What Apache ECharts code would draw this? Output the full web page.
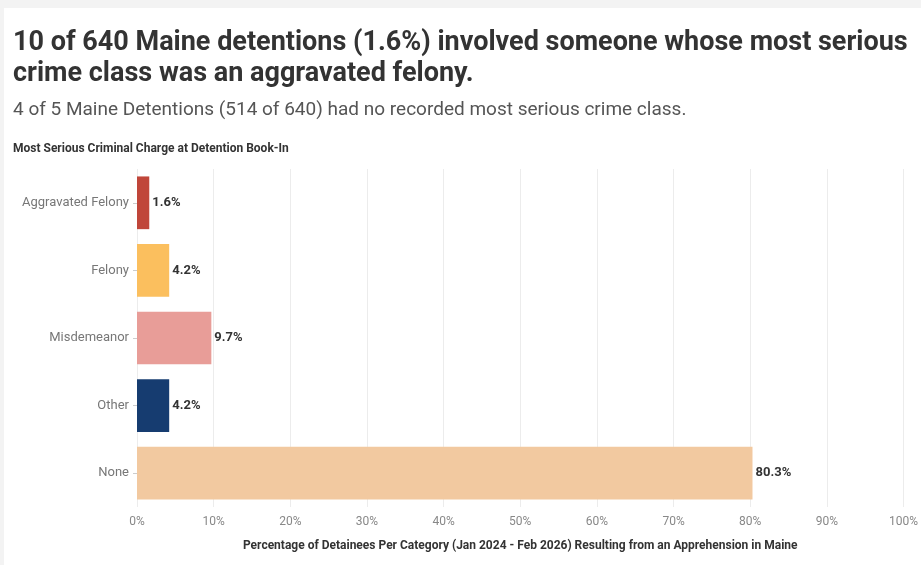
<!DOCTYPE html>
<html><head><meta charset="utf-8">
<script src="https://cdn.jsdelivr.net/npm/echarts@6/dist/echarts.min.js"></script>
<style>html,body{margin:0;padding:0;background:#fff}#c{width:921px;height:565px}</style>
</head><body><div id="c"></div>
<script>
const categories = ["Aggravated Felony", "Felony", "Misdemeanor", "Other", "None"];
const values = [1.6, 4.2, 9.7, 4.2, 80.3];
const barColors = ["#c0463a", "#fbbf5e", "#e89d98", "#163c70", "#f2c9a0"];
const xTicks = [0, 10, 20, 30, 40, 50, 60, 70, 80, 90, 100];

const chart = echarts.init(document.getElementById('c'));
chart.setOption({
  animation: false,
  backgroundColor: '#fff',
  graphic: [
    {type: 'rect', shape: {x: 0, y: 0, width: 921, height: 8}, style: {fill: '#f3f3f3'}},
    {type: 'rect', shape: {x: 0, y: 0, width: 4, height: 565}, style: {fill: '#f3f3f3'}},
    {type: 'text', left: 13, top: 28, style: {text: '10 of 640 Maine detentions (1.6%) involved someone whose most serious\ncrime class was an aggravated felony.', font: 'bold 27px Roboto', fill: '#333', lineHeight: 31}},
    {type: 'text', left: 13, top: 101, style: {text: '4 of 5 Maine Detentions (514 of 640) had no recorded most serious crime class.', font: '19px Roboto', fill: '#555'}},
    {type: 'text', left: 13, top: 143, style: {text: 'Most Serious Criminal Charge at Detention Book-In', font: 'bold 12px Roboto', fill: '#333'}}
  ],
  grid: {left: 137, right: 16, top: 169, bottom: 58, containLabel: false},
  xAxis: {
    type: 'value', min: 0, max: 100, interval: 10,
    axisLabel: {formatter: v => xTicks.includes(v) ? v + '%' : '', color: '#888', fontSize: 12, fontFamily: 'Roboto', margin: 9},
    axisLine: {show: false}, axisTick: {show: false},
    splitLine: {lineStyle: {color: '#ececec'}},
    name: 'Percentage of Detainees Per Category (Jan 2024 - Feb 2026) Resulting from an Apprehension in Maine',
    nameLocation: 'middle', nameGap: 33,
    nameTextStyle: {color: '#333', fontSize: 12, fontWeight: 'bold', fontFamily: 'Roboto'}
  },
  yAxis: {
    type: 'category', data: categories, inverse: true,
    axisLine: {show: false},
    axisTick: {show: true, alignWithLabel: true, length: 4, lineStyle: {color: '#ccc'}},
    axisLabel: {color: '#777', fontSize: 13, fontFamily: 'Roboto', margin: 8}
  },
  series: [{
    type: 'bar', barCategoryGap: '22%',
    data: values.map((v, i) => ({value: v, itemStyle: {color: barColors[i]}})),
    label: {show: true, position: 'right', distance: 3, formatter: p => p.value.toFixed(1) + '%', color: '#333', fontWeight: 'bold', fontSize: 13, fontFamily: 'Roboto'}
  }]
});
</script></body></html>
